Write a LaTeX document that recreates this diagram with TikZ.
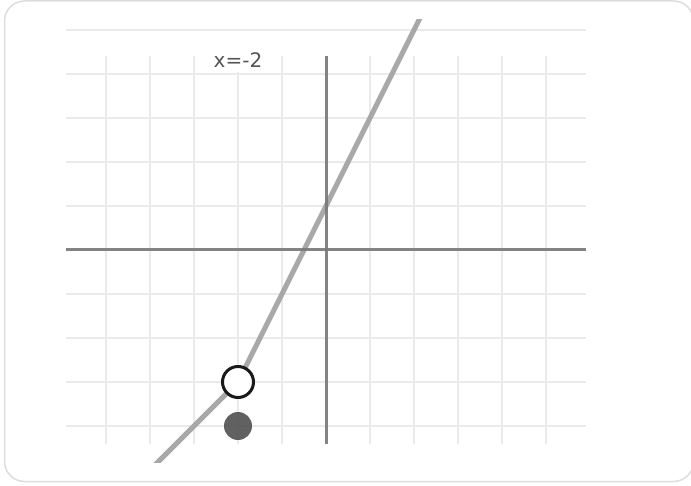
\documentclass[tikz,border=0pt]{standalone}
\usepackage{fontspec}
\newfontfamily\labelfont{DejaVu Sans}
\definecolor{gridc}{RGB}{234,234,234}
\definecolor{axisc}{RGB}{120,120,120}
\definecolor{funcc}{RGB}{168,168,168}
\definecolor{borderc}{RGB}{221,221,221}
\definecolor{textc}{RGB}{85,85,85}
\definecolor{dotc}{RGB}{88,88,88}
\begin{document}
\begin{tikzpicture}[x=1pt,y=-1pt,
  gridline/.style={draw=gridc,line width=1.6pt},
  axisline/.style={draw=axisc,line width=3pt,opacity=0.9},
  funcline/.style={draw=funcc,line width=5pt,line join=miter},
  holept/.style={circle,draw=black!90,line width=3pt,fill=white,minimum size=31pt,inner sep=0pt},
  dotpt/.style={circle,fill=dotc,opacity=0.95,minimum size=28pt,inner sep=0pt},
  lbl/.style={font=\labelfont\fontsize{20}{24}\selectfont,text=textc,fill=white,inner sep=5pt}]
\useasboundingbox (0,0) rectangle (691,486);
\draw[draw=borderc,line width=1.5pt,rounded corners=20pt] (4.5,1) rectangle (693.5,481.5);
% grid
\foreach \k in {0,...,9} {
  \pgfmathsetmacro\yy{30+44*\k}
  \draw[gridline] (66,\yy) -- (586,\yy);
}
\foreach \k in {0,...,10} {
  \pgfmathsetmacro\xx{106+44*\k}
  \draw[gridline] (\xx,56) -- (\xx,444);
}
% coordinates
\coordinate (hole) at (238,382);
\coordinate (fill) at (238,426);
\coordinate (lo) at (138,482);
\coordinate (hi) at (438,-18);
% function
\begin{scope}
  \clip (0,20) rectangle (691,462);
  \draw[funcline] (lo) -- (hole) -- (hi);
\end{scope}
% axes
\coordinate (xl) at (66,250);
\coordinate (xr) at (586,250);
\coordinate (yt) at (326,56);
\coordinate (yb) at (326,444);
\draw[axisline] (xl) -- (xr);
\draw[axisline] (yt) -- (yb);
% label
\node[lbl,anchor=base] (lab) at (238,67.3) {x=-2};
% points
\node[holept] (open) at (hole) {};
\node[dotpt] (closed) at (fill) {};
\end{tikzpicture}
\end{document}
